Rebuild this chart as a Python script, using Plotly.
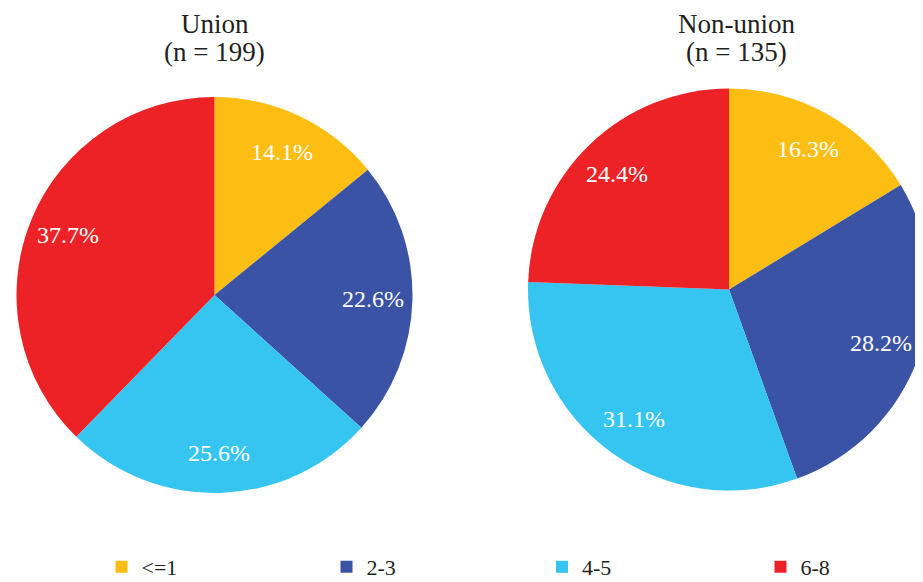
import math
import plotly.graph_objects as go

categories = ["<=1", "2-3", "4-5", "6-8"]
union_values = [14.1, 22.6, 25.6, 37.7]
nonunion_values = [16.3, 28.2, 31.1, 24.4]
colors = ["#FDBE13", "#3B53A4", "#36C5F1", "#EC2227"]
titles = [("Union", "(n = 199)"), ("Non-union", "(n = 135)")]

# The page body has an 8px margin; the figure is laid out in its own pixel
# coordinates (screen position minus OFF) and is a bit larger than the window
# so the right pie is cropped by the window edge, as in the original.
OFF = 8
W, H = 940, 600
FONT = "Liberation Serif"
TXT = "#231F20"

def px_x(sx):
    return (sx - OFF) / W

def px_y(sy):
    return (H - (sy - OFF)) / H

def dom(cx, cy, r):
    return dict(x=[px_x(cx - r), px_x(cx + r)], y=[px_y(cy + r), px_y(cy - r)])

pies = [
    (union_values, 214.5, 295, 198),
    (nonunion_values, 729, 289.5, 201),
]

fig = go.Figure()
for vals, cx, cy, r in pies:
    fig.add_trace(go.Pie(
        labels=categories, values=vals, sort=False, direction="clockwise", rotation=0,
        marker=dict(colors=colors, line=dict(width=0)),
        textinfo="none", domain=dom(cx, cy, r), showlegend=False, hoverinfo="label+value",
    ))
    total = sum(vals)
    cum = 0.0
    for v in vals:
        mid = (cum + v / 2) / total * 2 * math.pi
        cum += v
        lx = cx + 0.80 * r * math.sin(mid)
        ly = cy - 0.80 * r * math.cos(mid)
        fig.add_annotation(x=px_x(lx), y=px_y(ly), xref="paper", yref="paper",
                           text=f"{v:.1f}%", showarrow=False,
                           font=dict(family=FONT, size=24, color="white"),
                           xanchor="center", yanchor="middle")

for (t1, t2), cx in zip(titles, [214.5, 736]):
    for txt, cy in ((t1, 23.5), (t2, 51.5)):
        fig.add_annotation(x=px_x(cx), y=px_y(cy), xref="paper", yref="paper", text=txt,
                           showarrow=False, font=dict(family=FONT, size=27, color=TXT),
                           xanchor="center", yanchor="middle")

# legend: one entry per category, each in its own horizontal legend
legend_symbol_x = [125, 350, 565.5, 784]
layout_legends = {}
for i, (cat, col, sx) in enumerate(zip(categories, colors, legend_symbol_x)):
    lid = "legend" if i == 0 else f"legend{i + 1}"
    fig.add_trace(go.Scatter(
        x=[None], y=[None], mode="markers", name=cat, legend=lid, showlegend=True,
        marker=dict(symbol="square", size=12, color=col, line=dict(width=0)),
        hoverinfo="skip",
    ))
    layout_legends[lid] = dict(
        orientation="h", x=px_x(sx - 4.5 - 19), xanchor="left", y=px_y(567), yanchor="middle",
        font=dict(family=FONT, size=22, color=TXT), bgcolor="rgba(0,0,0,0)", borderwidth=0,
    )

fig.update_layout(
    width=W, height=H, margin=dict(l=0, r=0, t=0, b=0),
    paper_bgcolor="white", plot_bgcolor="white",
    font=dict(family=FONT, color=TXT),
    xaxis=dict(visible=False), yaxis=dict(visible=False),
    **layout_legends,
)
fig.write_html("out.html")
